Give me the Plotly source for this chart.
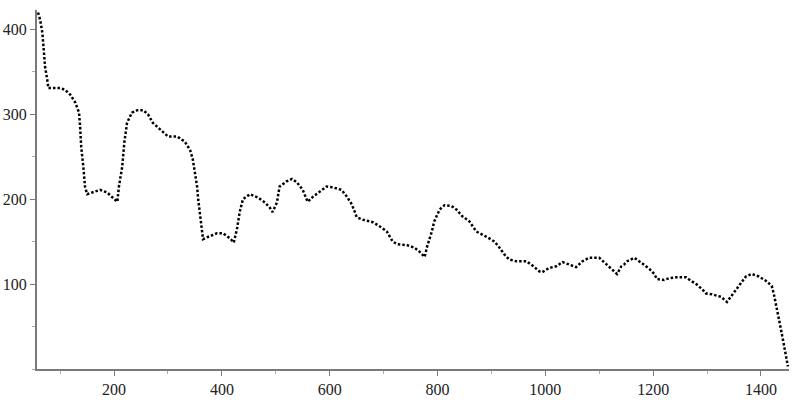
import plotly.graph_objects as go

x_vals = [59, 63, 67, 70, 72, 76, 78, 87, 100, 109, 119, 128, 135, 137, 139, 143, 146, 150,
          161, 174, 187, 198, 206, 209, 215, 219, 224, 233, 243, 254, 263, 272, 281, 291, 300,
          317, 331, 341, 346, 350, 354, 356, 361, 365, 372, 391, 402, 415, 422, 428, 433, 439,
          452, 467, 480, 489, 494, 502, 507, 520, 530, 539, 550, 559, 569, 582, 594, 606, 622,
          632, 641, 646, 650, 661, 680, 693, 706, 717, 726, 743, 757, 767, 776, 781, 789, 794,
          804, 813, 826, 835, 846, 859, 872, 893, 906, 915, 924, 933, 946, 965, 976, 989, 994,
          1007, 1020, 1032, 1048, 1057, 1069, 1081, 1100, 1109, 1119, 1128, 1133, 1141, 1146,
          1152, 1165, 1174, 1183, 1193, 1202, 1207, 1220, 1230, 1243, 1261, 1270, 1280, 1291,
          1298, 1309, 1326, 1337, 1344, 1354, 1363, 1372, 1383, 1396, 1409, 1420, 1424, 1430,
          1437, 1443, 1448, 1450]
y_vals = [420, 411, 396, 376, 356, 341, 331, 331, 331, 329, 323, 314, 302, 285, 262, 238, 215, 206,
          208, 211, 208, 202, 197, 215, 238, 267, 290, 302, 305, 305, 300, 290, 285, 280, 274,
          274, 268, 258, 247, 231, 215, 200, 176, 153, 155, 160, 160, 154, 149, 165, 185, 200,
          206, 202, 196, 190, 185, 196, 215, 221, 224, 220, 211, 197, 203, 209, 215, 214, 211,
          203, 194, 186, 179, 176, 173, 168, 162, 150, 147, 146, 143, 138, 132, 145, 161, 174,
          188, 193, 192, 188, 180, 174, 162, 155, 150, 143, 135, 129, 127, 127, 122, 115, 114,
          119, 121, 126, 122, 120, 127, 131, 131, 126, 120, 115, 112, 121, 123,
          127, 131, 127, 123, 118, 112, 106, 105, 107, 108, 108, 104, 100, 94,
          89, 88, 85, 79, 85, 94, 102, 109, 112, 109, 104, 98, 88, 67,
          47, 27, 12, 3]

x_ticks = [200, 400, 600, 800, 1000, 1200, 1400]
y_ticks = [100, 200, 300, 400]

fig = go.Figure()
fig.add_trace(go.Scatter(
    x=x_vals, y=y_vals, mode="lines",
    line=dict(color="black", width=2.5, dash="2.5px,2px"),
    cliponaxis=False,
    hoverinfo="skip", showlegend=False,
))

axis_font = dict(family="Liberation Serif, Times New Roman, serif", size=16, color="#222")
fig.update_layout(
    width=800, height=400,
    margin=dict(l=37, r=11, t=10, b=31, autoexpand=False),
    paper_bgcolor="white", plot_bgcolor="white",
    showlegend=False,
    xaxis=dict(range=[57, 1452], tickvals=x_ticks, showgrid=False, zeroline=False,
               automargin=False,
               showline=True, linecolor="#7a7a7a", linewidth=2,
               ticks="outside", ticklen=5, tickcolor="#7a7a7a", tickwidth=1,
               minor=dict(dtick=100, tick0=0, ticks="outside", ticklen=3,
                          tickcolor="#aaaaaa", showgrid=False),
               tickfont=axis_font),
    yaxis=dict(range=[0, 423], tickvals=y_ticks, showgrid=False, zeroline=False,
               automargin=False,
               showline=True, linecolor="#7a7a7a", linewidth=2,
               ticks="outside", ticklen=5, tickcolor="#7a7a7a", tickwidth=1,
               minor=dict(dtick=50, tick0=0, ticks="outside", ticklen=3,
                          tickcolor="#aaaaaa", showgrid=False),
               tickfont=axis_font),
)

fig.write_html(
    "out.html",
    config={"displayModeBar": False},
    post_script="document.body.style.margin='0';document.body.style.padding='0';"
                "document.documentElement.style.overflow='hidden';",
)
